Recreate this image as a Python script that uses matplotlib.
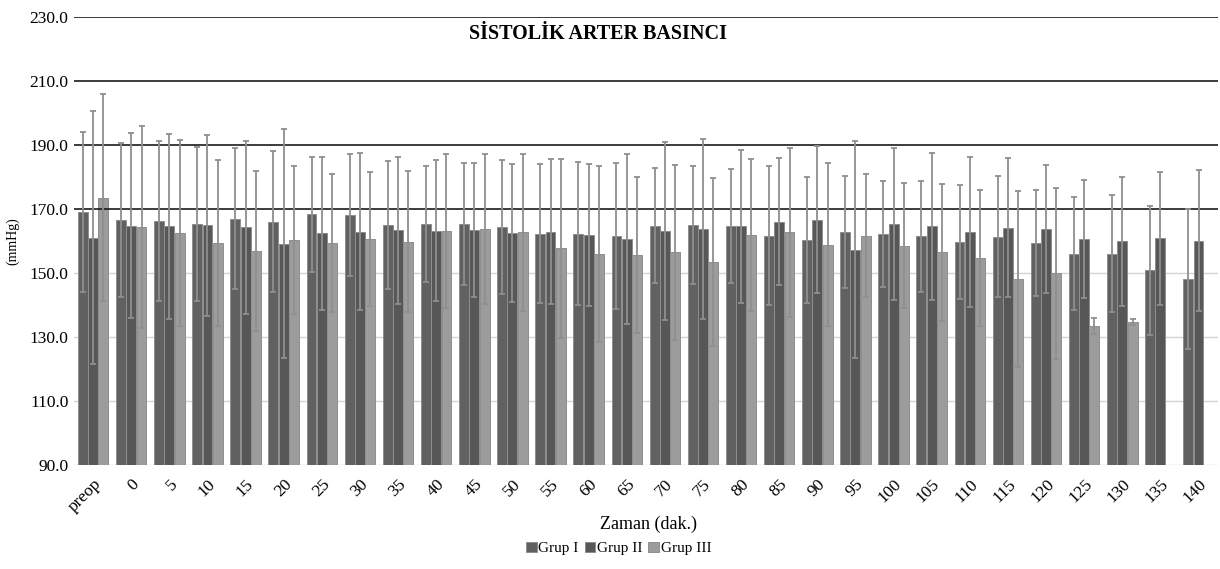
import numpy as np
import matplotlib
matplotlib.use("Agg")
import matplotlib.pyplot as plt

categories = ["preop", "0", "5", "10", "15", "20", "25", "30", "35", "40", "45", "50",
              "55", "60", "65", "70", "75", "80", "85", "90", "95", "100", "105", "110",
              "115", "120", "125", "130", "135", "140"]

grup1_mean = [169.2, 166.6, 166.4, 165.3, 167.0, 166.1, 168.3, 168.1, 165.0, 165.3,
              165.3, 164.3, 162.3, 162.3, 161.6, 164.8, 165.0, 164.8, 161.6, 160.3,
              162.7, 162.2, 161.5, 159.6, 161.4, 159.4, 156.1, 156.1, 150.9, 148.1]
grup1_sd = [25.0, 24.0, 25.0, 24.0, 22.0, 22.0, 18.0, 19.0, 20.0, 18.0,
            19.0, 21.0, 21.7, 22.3, 22.7, 18.0, 18.3, 17.8, 21.7, 19.7,
            17.5, 16.7, 17.4, 17.8, 19.0, 16.5, 17.6, 18.2, 20.2, 22.0]

grup2_mean = [161.1, 164.8, 164.6, 164.9, 164.3, 159.1, 162.4, 162.9, 163.4, 163.2,
              163.4, 162.5, 162.9, 161.9, 160.7, 163.0, 163.8, 164.6, 166.0, 166.6,
              157.3, 165.3, 164.6, 162.9, 164.1, 163.8, 160.7, 159.9, 160.9, 160.1]
grup2_sd = [39.6, 29.0, 29.0, 28.3, 27.0, 35.8, 24.0, 24.5, 23.0, 22.0,
            21.0, 21.5, 22.7, 22.3, 26.6, 27.8, 28.2, 24.0, 19.8, 23.0,
            34.0, 23.8, 23.0, 23.4, 21.7, 20.0, 18.5, 20.2, 20.8, 22.1]

grup3_mean = [173.6, 164.5, 162.5, 159.4, 156.8, 160.3, 159.4, 160.6, 159.8, 163.2,
              163.8, 162.7, 157.7, 155.9, 155.7, 156.5, 153.5, 161.9, 162.7, 158.8,
              161.7, 158.5, 156.5, 154.6, 148.0, 149.9, 133.5, 134.6, np.nan, np.nan]
grup3_sd = [32.5, 31.6, 29.0, 26.0, 25.0, 23.0, 21.5, 21.0, 22.0, 24.0,
            23.5, 24.5, 28.0, 27.5, 24.3, 27.4, 26.3, 23.8, 26.3, 25.5,
            19.2, 19.5, 21.4, 21.2, 27.5, 26.7, 2.5, 1.0, np.nan, np.nan]

series_names = ["Grup I", "Grup II", "Grup III"]
y_ticks = [90, 110, 130, 150, 170, 190, 210, 230]

plt.rcParams['font.family'] = ['Liberation Serif', 'DejaVu Serif']

fig = plt.figure(figsize=(12.2, 5.69), dpi=100)
ax = fig.add_axes([0.0607, 0.1828, 0.9373, 0.7872])

x = np.arange(len(categories))
w = 0.26
offs = [-0.27, 0.0, 0.27]
colors = ["#616161", "#575757", "#9c9c9c"]
means = [grup1_mean, grup2_mean, grup3_mean]
sds = [grup1_sd, grup2_sd, grup3_sd]

# gridlines
for v in y_ticks:
    if v >= 170:
        ax.axhline(v, color="#1a1a1a", lw=1.2, zorder=3)
    else:
        ax.axhline(v, color="#d4d4d4", lw=1.0, zorder=0)

for i in range(3):
    m = np.array(means[i], dtype=float)
    s = np.array(sds[i], dtype=float)
    ax.bar(x + offs[i], m, width=w, color=colors[i], edgecolor="#8e8e8e",
           linewidth=0.7, zorder=2, label=series_names[i])
    ax.errorbar(x + offs[i], m, yerr=s, fmt="none", ecolor="#8f8f8f",
                elinewidth=1.3, capsize=2.5, capthick=1.3, zorder=4)

ax.set_ylim(90, 230)
ax.set_xlim(-0.5, 29.5)
ax.set_yticks(y_ticks)
ax.set_yticklabels([f"{v:.1f}" for v in y_ticks], fontsize=12.5)
ax.set_xticks(x)
ax.set_xticklabels(categories, rotation=45, ha="right", rotation_mode="anchor",
                   fontsize=12.5)
ax.tick_params(axis="both", length=0)
ax.tick_params(axis="x", pad=8)
ax.tick_params(axis="y", pad=4)
for sp in ax.spines.values():
    sp.set_visible(False)

ax.set_ylabel("(mmHg)", fontsize=10)
ax.yaxis.set_label_coords(-0.048, 0.5)
ax.set_xlabel("Zaman (dak.)", fontsize=13)
ax.xaxis.set_label_coords(0.502, -0.113)

fig.text(0.49, 0.94, "SİSTOLİK ARTER BASINCI", fontsize=14.5, fontweight="bold",
         ha="center", va="center")

leg = fig.legend(loc="center", bbox_to_anchor=(0.507, 0.036), ncol=3, frameon=False,
                 fontsize=11, handlelength=0.7, handleheight=0.7, handletextpad=0.1,
                 columnspacing=0.4)

fig.savefig("out.png", dpi=100)
